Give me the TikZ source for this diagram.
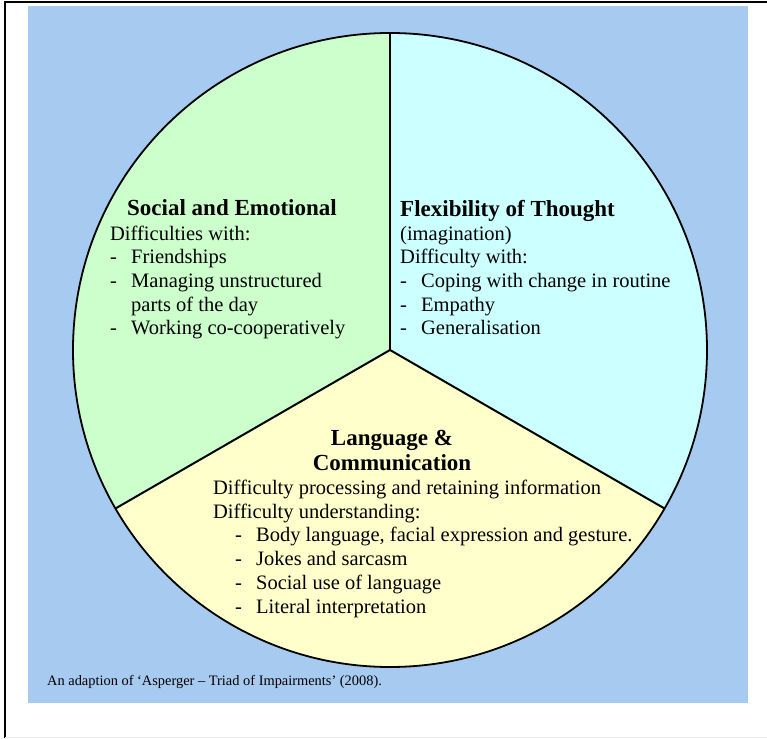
\documentclass[tikz,border=0pt]{standalone}
\usepackage{fontspec}
\setmainfont{Liberation Serif}
\usetikzlibrary{positioning}
\definecolor{bgblue}{RGB}{167,202,240}
\definecolor{socialgreen}{RGB}{204,255,204}
\definecolor{flexcyan}{RGB}{204,255,255}
\definecolor{langyellow}{RGB}{255,255,204}
\newcommand{\dashitem}[1]{\makebox[21pt][l]{-}#1}
\tikzset{
  sector/.style={draw=black, line width=1.8pt},
  divider/.style={draw=black, line width=2pt},
  head/.style={
    inner sep=0pt,
    align=center,
    font=\fontsize{23}{25}\selectfont\bfseries
  },
  body/.style={
    inner sep=0pt,
    align=left,
    anchor=base west,
    font=\fontsize{20.5}{23.7}\selectfont
  },
  caption/.style={
    inner sep=0pt,
    anchor=base west,
    font=\fontsize{14.4}{16}\selectfont
  }
}
\begin{document}
\begin{tikzpicture}[x=1pt, y=1pt]
  \useasboundingbox (-390,-388) rectangle (377,350);
  \fill[white] (-390,-388) rectangle (377,350);
  \draw[line width=2pt] (-385,-388) |- (377,348);
  \draw[gray!15] (-385,-387.5) -- (377,-387.5);
  \fill[bgblue] (-362,-353) rectangle (358,344);

  % the three sectors
  \coordinate (c) at (0,0);
  \fill[socialgreen] (c) -- (90:317) arc[start angle=90, end angle=210, radius=317] -- cycle;
  \fill[langyellow] (c) -- (210:317) arc[start angle=210, end angle=330, radius=317] -- cycle;
  \fill[flexcyan] (c) -- (330:317) arc[start angle=330, end angle=450, radius=317] -- cycle;
  \draw[sector] (c) circle[radius=317];
  \foreach \a in {90,210,330}
    \draw[divider] (c) -- (\a:317);

  % base of a many-line node = baseline of its last line
  \node[head, anchor=base] (socialhead) at (-158,134) {Social and Emotional};
  \node[body] (socialbody) at (-280,15) {Difficulties with:\\
    \dashitem{Friendships}\\
    \dashitem{Managing unstructured}\\
    \hspace*{21pt}parts of the day\\
    \dashitem{Working co-cooperatively}};

  \node[head, anchor=base west] (flexhead) at (10,133) {Flexibility of Thought};
  \node[body] (flexbody) at (10,15) {(imagination)\\
    Difficulty with:\\
    \dashitem{Coping with change in routine}\\
    \dashitem{Empathy}\\
    \dashitem{Generalisation}};

  \node[head, anchor=base] (langhead) at (2,-120) {Language \&\\Communication};
  \node[body] (langbody) at (-177,-263) {Difficulty processing and retaining information\\
    Difficulty understanding:\\
    \hspace*{22pt}\dashitem{Body language, facial expression and gesture.}\\
    \hspace*{22pt}\dashitem{Jokes and sarcasm}\\
    \hspace*{22pt}\dashitem{Social use of language}\\
    \hspace*{22pt}\dashitem{Literal interpretation}};

  \node[caption] (source) at (-343,-335) {An adaption of ‘Asperger – Triad of Impairments’ (2008).};
\end{tikzpicture}
\end{document}
